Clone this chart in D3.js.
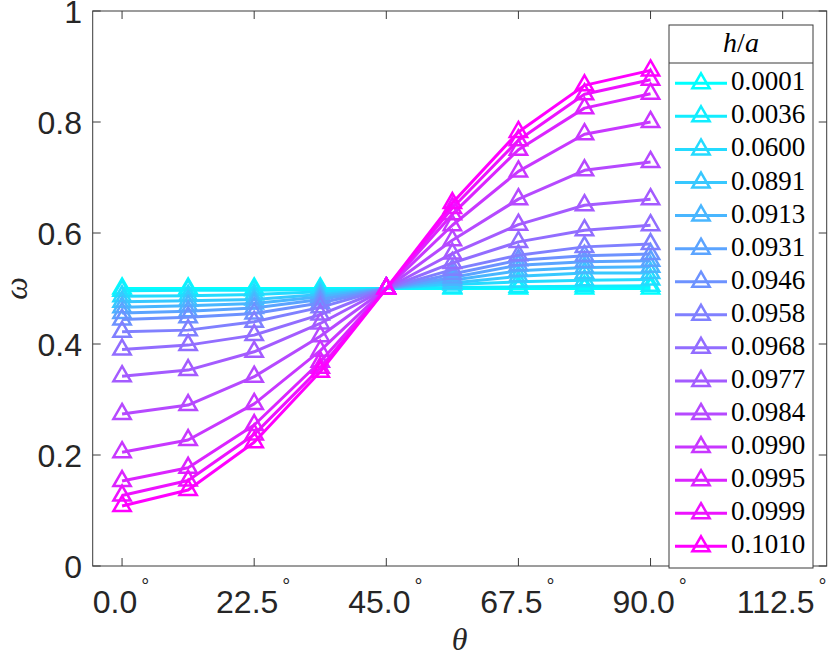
<!DOCTYPE html>
<html>
<head>
<meta charset="utf-8">
<script src="https://cdn.jsdelivr.net/npm/d3@7"></script>
<style>
  html, body { margin: 0; padding: 0; background: #fff; }
  svg { display: block; }
</style>
</head>
<body>
<svg id="chart" width="830" height="656"></svg>
<script>
// ---- data ----
const thetas = [0, 11.25, 22.5, 33.75, 45, 56.25, 67.5, 78.75, 90];
const ratioLabels = ["0.0001","0.0036","0.0600","0.0891","0.0913","0.0931","0.0946","0.0958","0.0968","0.0977","0.0984","0.0990","0.0995","0.0999","0.1010"];
const w0001 = [0.500, 0.500, 0.500, 0.500, 0.500, 0.500, 0.500, 0.500, 0.500];
const w0036 = [0.496, 0.497, 0.497, 0.498, 0.500, 0.502, 0.503, 0.504, 0.505];
const w0600 = [0.486, 0.487, 0.489, 0.494, 0.500, 0.507, 0.512, 0.515, 0.516];
const w0891 = [0.476, 0.478, 0.480, 0.489, 0.500, 0.510, 0.522, 0.528, 0.528];
const w0913 = [0.466, 0.469, 0.473, 0.485, 0.500, 0.515, 0.532, 0.538, 0.539];
const w0931 = [0.456, 0.459, 0.465, 0.480, 0.500, 0.520, 0.542, 0.548, 0.550];
const w0946 = [0.444, 0.448, 0.455, 0.474, 0.500, 0.526, 0.551, 0.559, 0.562];
const w0958 = [0.422, 0.425, 0.440, 0.466, 0.500, 0.534, 0.560, 0.575, 0.580];
const w0968 = [0.390, 0.398, 0.416, 0.453, 0.500, 0.546, 0.584, 0.605, 0.614];
const w0977 = [0.342, 0.353, 0.386, 0.437, 0.500, 0.563, 0.615, 0.650, 0.661];
const w0984 = [0.274, 0.290, 0.341, 0.414, 0.500, 0.587, 0.661, 0.713, 0.728];
const w0990 = [0.205, 0.227, 0.292, 0.388, 0.500, 0.614, 0.711, 0.778, 0.800];
const w0995 = [0.153, 0.177, 0.254, 0.368, 0.500, 0.634, 0.750, 0.825, 0.851];
const w0999 = [0.127, 0.154, 0.237, 0.357, 0.500, 0.645, 0.767, 0.850, 0.876];
const w1010 = [0.108, 0.137, 0.223, 0.350, 0.500, 0.654, 0.782, 0.866, 0.893];
const seriesValues = [w0001, w0036, w0600, w0891, w0913, w0931, w0946, w0958, w0968, w0977, w0984, w0990, w0995, w0999, w1010];
const xTicks = [0, 22.5, 45, 67.5, 90, 112.5];
const yTicks = [0, 0.2, 0.4, 0.6, 0.8, 1];
const yTickLabels = ["0", "0.2", "0.4", "0.6", "0.8", "1"];

// ---- layout ----
const L = 92.7, R = 826.7, T = 11, B = 566;
const svg = d3.select("#chart");
const x = d3.scaleLinear().domain([-5, 120]).range([L, R]);
const y = d3.scaleLinear().domain([0, 1]).range([B, T]);
const n = seriesValues.length;
const color = i => { const t = i / (n - 1); return d3.rgb(255 * t, 255 * (1 - t), 255).toString(); };
const axisColor = "#3a3a3a";
const textColor = "#262626";
const sansFont = "'Liberation Sans', Arial, Helvetica, sans-serif";
const serifFont = "'Liberation Serif', 'Times New Roman', serif";

// ---- series ----
const line = d3.line().x(d => x(d[0])).y(d => y(d[1]));
const tri = d3.symbol().type(d3.symbolTriangle).size(130);
const gData = svg.append("g");
seriesValues.forEach((vals, i) => {
  const pts = thetas.map((t, j) => [t, vals[j]]);
  const g = gData.append("g");
  g.append("path").attr("d", line(pts)).attr("fill", "none")
    .attr("stroke", color(i)).attr("stroke-width", 3).attr("stroke-linejoin", "round");
  g.selectAll("path.m").data(pts).enter().append("path").attr("class", "m")
    .attr("d", tri).attr("transform", d => `translate(${x(d[0])},${y(d[1])})`)
    .attr("fill", "none").attr("stroke", color(i)).attr("stroke-width", 2.5);
});

// ---- axes box ----
const gAx = svg.append("g");
gAx.append("rect").attr("x", L).attr("y", T).attr("width", R - L).attr("height", B - T)
  .attr("fill", "none").attr("stroke", axisColor).attr("stroke-width", 1);
const tl = 8;
xTicks.forEach(t => {
  gAx.append("line").attr("x1", x(t)).attr("x2", x(t)).attr("y1", B).attr("y2", B - tl).attr("stroke", axisColor);
  gAx.append("line").attr("x1", x(t)).attr("x2", x(t)).attr("y1", T).attr("y2", T + tl).attr("stroke", axisColor);
});
yTicks.forEach(t => {
  gAx.append("line").attr("x1", L).attr("x2", L + tl).attr("y1", y(t)).attr("y2", y(t)).attr("stroke", axisColor);
  gAx.append("line").attr("x1", R).attr("x2", R - tl).attr("y1", y(t)).attr("y2", y(t)).attr("stroke", axisColor);
});

// tick labels
yTicks.forEach((t, i) => {
  svg.append("text").attr("x", 82).attr("y", y(t) + 11.5).attr("text-anchor", "end")
    .attr("font-family", sansFont).attr("font-size", 32).attr("fill", textColor).text(yTickLabels[i]);
});
xTicks.forEach(t => {
  const tx = svg.append("text").attr("x", x(t) - 1).attr("y", 613).attr("text-anchor", "middle")
    .attr("font-family", sansFont).attr("font-size", 32).attr("fill", textColor);
  tx.append("tspan").text(t.toFixed(1));
  tx.append("tspan").attr("font-size", 20).attr("dx", 4).attr("dy", -20).text("\u00B0");
});

// axis labels
svg.append("text").attr("x", (L + R) / 2).attr("y", 650).attr("text-anchor", "middle")
  .attr("font-family", serifFont).attr("font-style", "italic").attr("font-size", 32)
  .attr("fill", textColor).text("\u03B8");
svg.append("text").attr("transform", `translate(27,${(T + B) / 2}) rotate(-90)`).attr("text-anchor", "middle")
  .attr("font-family", serifFont).attr("font-style", "italic").attr("font-size", 32)
  .attr("fill", textColor).text("\u03C9");

// ---- legend ----
const lgL = 669, lgR = 813, lgT = 25, lgB = 568, lgH = 63;
const gL = svg.append("g");
gL.append("rect").attr("x", lgL).attr("y", lgT).attr("width", lgR - lgL).attr("height", lgB - lgT)
  .attr("fill", "#fff").attr("stroke", axisColor).attr("stroke-width", 1);
gL.append("line").attr("x1", lgL).attr("x2", lgR).attr("y1", lgH).attr("y2", lgH).attr("stroke", axisColor);
const title = gL.append("text").attr("x", (lgL + lgR) / 2).attr("y", 52).attr("text-anchor", "middle")
  .attr("font-family", serifFont).attr("font-size", 28).attr("fill", "#000");
title.append("tspan").attr("font-style", "italic").text("h");
title.append("tspan").text("/");
title.append("tspan").attr("font-style", "italic").text("a");
const rowH = 33.07;
ratioLabels.forEach((lab, i) => {
  const ry = 83.3 + i * rowH;
  gL.append("line").attr("x1", 675).attr("x2", 727).attr("y1", ry).attr("y2", ry)
    .attr("stroke", color(i)).attr("stroke-width", 3);
  gL.append("path").attr("d", tri).attr("transform", `translate(701,${ry})`)
    .attr("fill", "none").attr("stroke", color(i)).attr("stroke-width", 2.5);
  gL.append("text").attr("x", 731).attr("y", ry + 7).attr("font-family", serifFont)
    .attr("font-size", 27).attr("fill", "#000").text(lab);
});
</script>
</body>
</html>
